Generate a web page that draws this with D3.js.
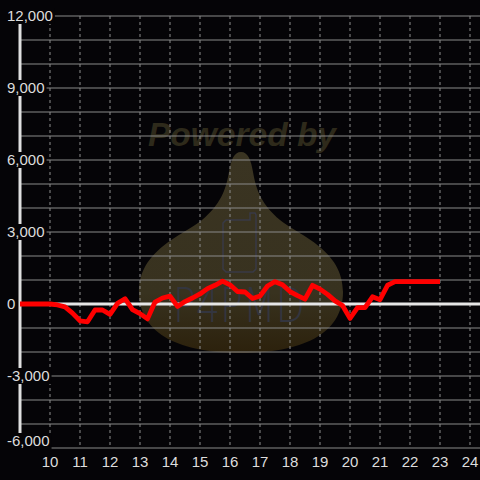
<!DOCTYPE html>
<html>
<head>
<meta charset="utf-8">
<script src="https://cdn.jsdelivr.net/npm/d3@7"></script>
<style>
  html, body { margin: 0; padding: 0; background: #050407; }
  svg { display: block; }
</style>
</head>
<body>
<div id="chart"></div>
<script>
// hours of the day and running value
const hours = [9, 10, 10.25, 10.5, 10.75, 11, 11.25, 11.5, 11.75, 12, 12.25, 12.5, 12.75,
  13, 13.25, 13.5, 13.75, 14, 14.25, 14.5, 14.75, 15, 15.25, 15.5, 15.75, 16, 16.25,
  16.5, 16.75, 17, 17.25, 17.5, 17.75, 18, 18.25, 18.5, 18.75, 19, 19.25, 19.5, 19.75,
  20, 20.25, 20.5, 20.75, 21, 21.25, 21.5, 23];
const values = [0, 0, -40, -120, -380, -700, -740, -250, -250, -430, 30, 220, -230,
  -400, -620, 80, 250, 330, -100, 100, 250, 420, 640, 780, 950, 800, 520,
  500, 230, 330, 750, 930, 800, 520, 350, 200, 780, 620, 400, 130, -60,
  -600, -150, -150, 300, 180, 780, 930, 930];
const xTicks = [10, 11, 12, 13, 14, 15, 16, 17, 18, 19, 20, 21, 22, 23, 24];
const yTicks = [12000, 9000, 6000, 3000, 0, -3000, -6000];
const yGrid = d3.range(-6000, 12001, 1000);

const width = 480, height = 480;
const x = d3.scaleLinear().domain([9, 24.333]).range([20, 480]);
const y = d3.scaleLinear().domain([-6000, 12000]).range([448, 16]);

const svg = d3.select('#chart').append('svg')
  .attr('width', width)
  .attr('height', height);

svg.append('rect').attr('width', width).attr('height', height).attr('fill', '#050407');

// watermark
const defs = svg.append('defs');
const grad = defs.append('linearGradient')
  .attr('id', 'wm').attr('x1', 0).attr('y1', 0).attr('x2', 0).attr('y2', 1);
grad.append('stop').attr('offset', '0%').attr('stop-color', '#3a3422');
grad.append('stop').attr('offset', '70%').attr('stop-color', '#38321f');
grad.append('stop').attr('offset', '100%').attr('stop-color', '#2c210c');

const wm = svg.append('g').attr('class', 'watermark');
wm.append('path')
  .attr('d', 'M241,152 C248,152 251,160 253,172 C256,190 262,205 280,220 C300,236 343,250 343,292 ' +
    'C343,335 300,353 241,353 C182,353 139,335 139,292 C139,250 182,236 202,220 ' +
    'C220,205 226,190 229,172 C231,160 234,152 241,152 Z')
  .attr('fill', 'url(#wm)');
wm.append('path')
  .attr('d', 'M226,220 L250,220 L250,213 L255,213 L256,215 L256,269 L253,272 L226,272 L223,269 L223,223 Z')
  .attr('fill', 'none')
  .attr('stroke', '#383a46')
  .attr('stroke-width', 1.5);
wm.append('text')
  .attr('x', 173).attr('y', 322)
  .attr('textLength', 132).attr('lengthAdjust', 'spacingAndGlyphs')
  .attr('font-family', 'DejaVu Sans')
  .attr('font-weight', 200)
  .attr('font-size', 48)
  .attr('fill', '#33353f')
  .text('P4PMD');
wm.append('text')
  .attr('x', 148).attr('y', 146)
  .attr('textLength', 188).attr('lengthAdjust', 'spacingAndGlyphs')
  .attr('font-family', 'Liberation Sans, Arial, sans-serif')
  .attr('font-weight', 'bold')
  .attr('font-style', 'italic')
  .attr('font-size', 33)
  .attr('fill', '#2e2a1b')
  .text('Powered by');

// grid
svg.append('g').selectAll('line')
  .data(yGrid.filter(d => d !== 0))
  .enter().append('line')
  .attr('x1', 21).attr('x2', width)
  .attr('y1', d => y(d)).attr('y2', d => y(d))
  .attr('stroke', '#8a8a8a')
  .attr('stroke-width', 1.2);

svg.append('g').selectAll('line')
  .data(xTicks)
  .enter().append('line')
  .attr('x1', d => x(d)).attr('x2', d => x(d))
  .attr('y1', y(12000)).attr('y2', y(-6000))
  .attr('stroke', '#8e8e8e')
  .attr('stroke-width', 1)
  .attr('stroke-dasharray', '3,3');

// zero line and y axis line
svg.append('line')
  .attr('x1', x(9)).attr('x2', width)
  .attr('y1', y(0)).attr('y2', y(0))
  .attr('stroke', '#e6e6e6')
  .attr('stroke-width', 3);

svg.append('line')
  .attr('x1', x(9)).attr('x2', x(9))
  .attr('y1', y(12000)).attr('y2', y(-6000))
  .attr('stroke', '#e0e0e0')
  .attr('stroke-width', 3);

// series
const line = d3.line()
  .x((d, i) => x(hours[i]))
  .y(d => y(d));

svg.append('path')
  .datum(values)
  .attr('d', line)
  .attr('fill', 'none')
  .attr('stroke', '#ff0000')
  .attr('stroke-width', 4.8)
  .attr('stroke-linejoin', 'round');

// y labels with black boxes (bottom one is nudged up to stay clear of the x labels)
const fmt = d => d3.format(',')(d).replace('\u2212', '-');
const yLab = svg.append('g').selectAll('g')
  .data(yTicks)
  .enter().append('g')
  .attr('transform', d => `translate(7,${Math.min(y(d), 441)})`);
yLab.append('text')
  .attr('dy', '0.36em')
  .attr('font-family', 'Liberation Sans, Arial, sans-serif')
  .attr('font-size', 15)
  .attr('fill', '#dddddd')
  .text(fmt)
  .each(function () {
    const bb = this.getBBox();
    d3.select(this.parentNode).insert('rect', 'text')
      .attr('x', bb.x - 2).attr('y', -8)
      .attr('width', bb.width + 4).attr('height', 16)
      .attr('fill', '#050407');
  });

// x labels
svg.append('g').selectAll('text')
  .data(xTicks)
  .enter().append('text')
  .attr('x', d => x(d))
  .attr('y', 467)
  .attr('text-anchor', 'middle')
  .attr('font-family', 'Liberation Sans, Arial, sans-serif')
  .attr('font-size', 15)
  .attr('fill', '#dddddd')
  .text(d => d);
</script>
</body>
</html>
